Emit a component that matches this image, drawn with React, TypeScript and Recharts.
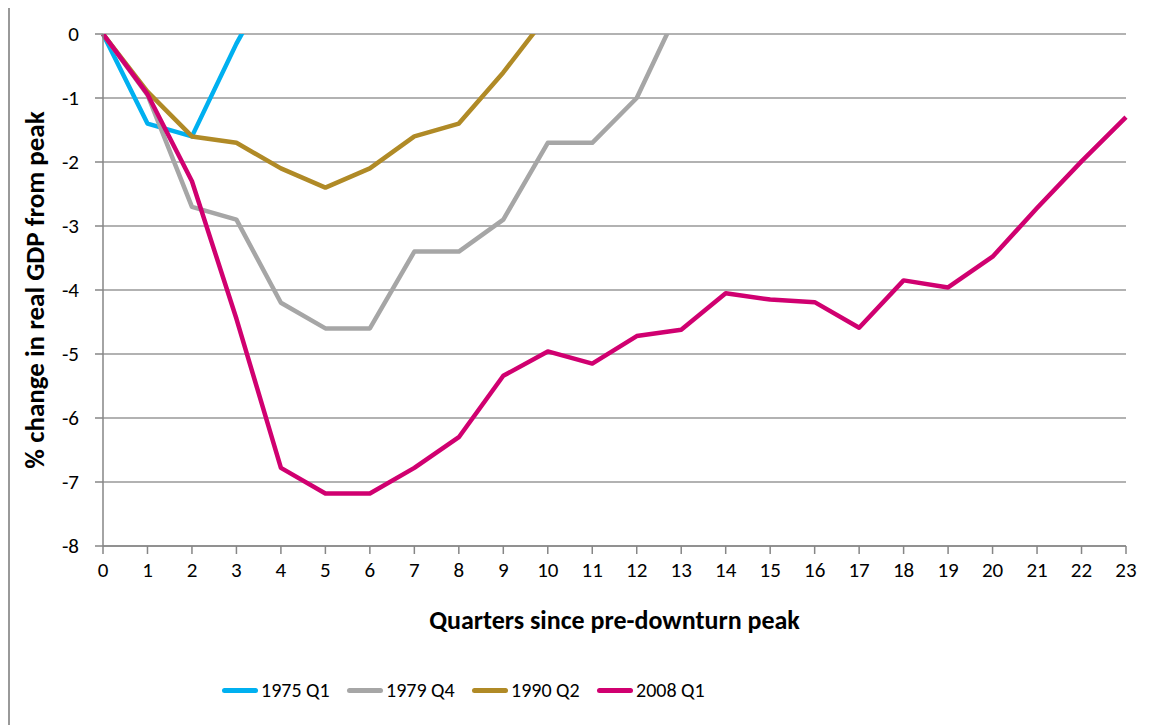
import React from "react"
import { LineChart, Line, XAxis, YAxis, CartesianGrid } from "recharts"

// quarters since pre-downturn peak
const quarters = Array.from({ length: 24 }, (_, i) => i)

// % change in real GDP from peak, one list per recession
const s1975 = [0, -1.4, -1.6, -0.15, 1.1]
const s1979 = [0, -0.95, -2.7, -2.9, -4.2, -4.6, -4.6, -3.4, -3.4, -2.9, -1.7, -1.7, -1.0, 0.47]
const s1990 = [0, -0.9, -1.6, -1.7, -2.1, -2.4, -2.1, -1.6, -1.4, -0.6, 0.3]
const s2008 = [
  0, -0.94, -2.3, -4.45, -6.78, -7.18, -7.18, -6.78, -6.3, -5.34, -4.96, -5.15,
  -4.72, -4.62, -4.05, -4.15, -4.19, -4.59, -3.85, -3.96, -3.48, -2.72, -1.99, -1.3,
]

const yTicks = [0, -1, -2, -3, -4, -5, -6, -7, -8]

const series = [
  { key: "s1975", name: "1975 Q1", color: "#00B0F0", values: s1975 },
  { key: "s1979", name: "1979 Q4", color: "#A6A6A6", values: s1979 },
  { key: "s1990", name: "1990 Q2", color: "#B08A26", values: s1990 },
  { key: "s2008", name: "2008 Q1", color: "#D00070", values: s2008 },
]

const data = quarters.map((q, i) => {
  const row: Record<string, number | undefined> = { q }
  series.forEach((s) => {
    row[s.key] = s.values[i]
  })
  return row
})

const FONT = "Carlito, Lato, sans-serif"
const tickStyle = { fill: "#000", fontSize: 21, fontFamily: FONT }

function XTitle({ viewBox }: any) {
  return (
    <text
      x={viewBox.x + viewBox.width / 2}
      y={viewBox.y + 83}
      textAnchor="middle"
      fontFamily={FONT}
      fontWeight="bold"
      fontSize={26}
      fill="#000"
    >
      Quarters since pre-downturn peak
    </text>
  )
}

function YTitle() {
  const cx = 24
  const cy = 284
  return (
    <text
      x={cx}
      y={cy}
      transform={`rotate(-90, ${cx}, ${cy})`}
      textAnchor="middle"
      dominantBaseline="central"
      fontFamily={FONT}
      fontWeight="bold"
      fontSize={27}
      fill="#000"
    >
      % change in real GDP from peak
    </text>
  )
}

function ChartLegend() {
  return (
    <div
      style={{
        position: "absolute",
        left: 212,
        top: 672,
        display: "flex",
        fontFamily: FONT,
        fontSize: 20,
        color: "#000",
      }}
    >
      {series.map((s) => (
        <div key={s.key} style={{ width: 125, display: "flex", alignItems: "center" }}>
          <span
            style={{
              display: "inline-block",
              width: 36,
              height: 5,
              borderRadius: 3,
              background: s.color,
              marginRight: 3,
            }}
          />
          <span>{s.name}</span>
        </div>
      ))}
    </div>
  )
}

export default function App() {
  return (
    <div
      style={{
        position: "relative",
        marginTop: -4,
        width: 1145,
        height: 721,
        borderTop: "2px solid #999",
        borderLeft: "2px solid #999",
        background: "#fff",
        overflow: "hidden",
      }}
    >
      <LineChart
        width={1135}
        height={715}
        data={data}
        margin={{ top: 28, right: 19, left: 0, bottom: 0 }}
      >
        <CartesianGrid horizontal vertical={false} stroke="#999" strokeWidth={1.5} />
        <XAxis
          dataKey="q"
          type="number"
          domain={[0, 23]}
          ticks={quarters}
          interval={0}
          height={175}
          tick={tickStyle}
          tickSize={8}
          tickMargin={8}
          axisLine={{ stroke: "#868686", strokeWidth: 1.5 }}
          tickLine={{ stroke: "#868686", strokeWidth: 1.5 }}
          label={<XTitle />}
        />
        <YAxis
          type="number"
          domain={[-8, 0]}
          allowDataOverflow
          ticks={yTicks}
          interval={0}
          width={93}
          tick={tickStyle}
          tickSize={8}
          tickMargin={16}
          axisLine={{ stroke: "#868686", strokeWidth: 1.5 }}
          tickLine={{ stroke: "#868686", strokeWidth: 1.5 }}
          label={<YTitle />}
        />
        {series.map((s) => (
          <Line
            key={s.key}
            dataKey={s.key}
            name={s.name}
            type="linear"
            stroke={s.color}
            strokeWidth={4.5}
            strokeLinejoin="round"
            dot={false}
            activeDot={false}
            isAnimationActive={false}
          />
        ))}
      </LineChart>
      <ChartLegend />
    </div>
  )
}
